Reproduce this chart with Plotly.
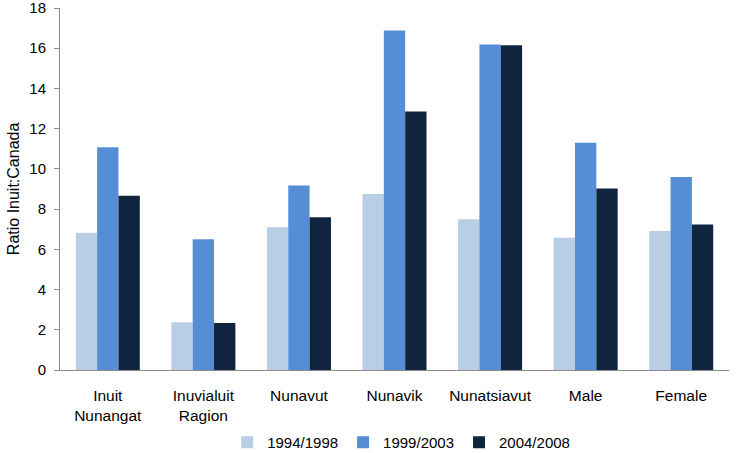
import plotly.graph_objects as go

categories = ["Inuit<br>Nunangat", "Inuvialuit<br>Ragion", "Nunavut", "Nunavik", "Nunatsiavut", "Male", "Female"]
s1994 = [6.83, 2.37, 7.10, 8.75, 7.50, 6.58, 6.91]
s1999 = [11.07, 6.50, 9.18, 16.88, 16.18, 11.30, 9.60]
s2004 = [8.67, 2.34, 7.59, 12.85, 16.15, 9.03, 7.24]
series_names = ["1994/1998", "1999/2003", "2004/2008"]
y_ticks = [0, 2, 4, 6, 8, 10, 12, 14, 16, 18]
colors = ["#B9CDE5", "#558ED5", "#10243F"]

fig = go.Figure()
for name, vals, c in zip(series_names, [s1994, s1999, s2004], colors):
    fig.add_trace(go.Bar(x=categories, y=vals, name=name, marker_color=c,
                         marker_line_width=0))

font = "Liberation Sans, Arial, Helvetica, sans-serif"
fig.update_layout(
    width=736, height=453,
    margin=dict(l=60, r=7, t=8, b=83, autoexpand=False),
    paper_bgcolor="white", plot_bgcolor="white",
    barmode="group", bargap=0.33, bargroupgap=0,
    font=dict(family=font, size=15, color="#000000"),
    legend=dict(orientation="h", x=0.51, xanchor="center", y=-0.2, yanchor="middle",
                font=dict(size=15), tracegroupgap=0),
    showlegend=True,
)
fig.update_yaxes(range=[0, 18.0001], tickvals=y_ticks, ticktext=[str(v) for v in y_ticks],
                 showgrid=False, showline=True, automargin=False,
                 linecolor="#8C8C8C", linewidth=1, ticks="outside", ticklen=5,
                 tickcolor="#8C8C8C", zeroline=False, ticklabelstandoff=5,
                 ticklabeloverflow="allow", tickfont=dict(size=15))
fig.update_xaxes(showline=True, linecolor="#8C8C8C", linewidth=1, showgrid=False,
                 automargin=False, ticks="", ticklabelstandoff=11,
                 tickfont=dict(size=15.5))
fig.add_annotation(text="Ratio Inuit:Canada", xref="paper", yref="paper",
                   x=-0.07, y=0.5, xanchor="center", yanchor="middle",
                   textangle=-90, showarrow=False, font=dict(size=16))

fig.write_html("out.html", config={"displayModeBar": False},
               post_script="document.body.style.margin='0';")
